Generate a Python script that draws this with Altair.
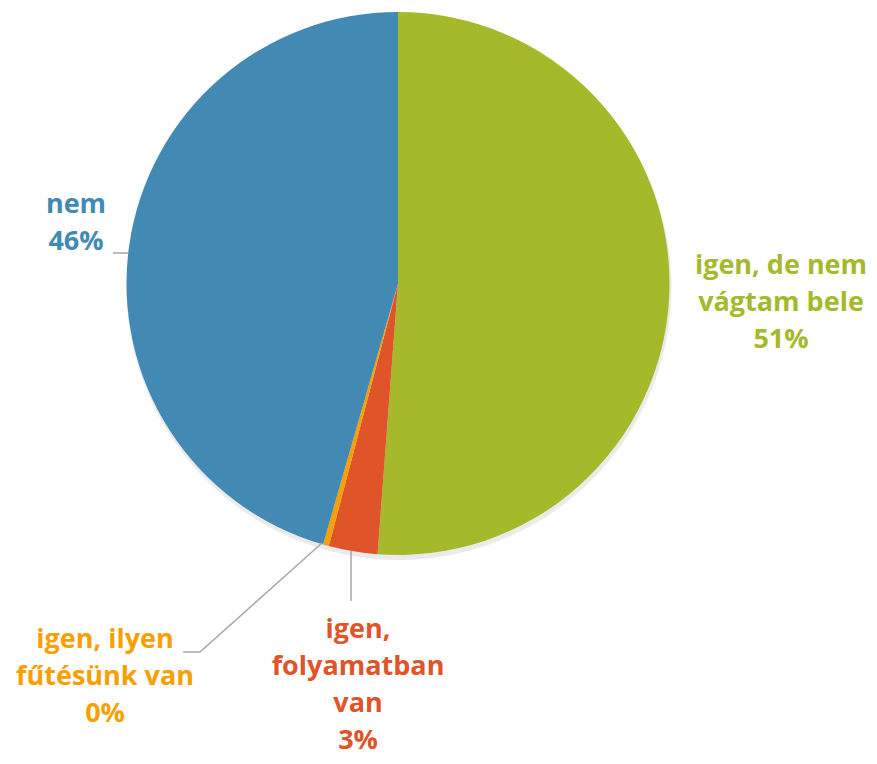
import altair as alt
import pandas as pd

# ---- data ----
categories = ["igen, de nem vágtam bele", "igen, folyamatban van", "igen, ilyen fűtésünk van", "nem"]
values = [51.2, 2.9, 0.35, 45.55]
pct_labels = ["51%", "3%", "0%", "46%"]
colors = ["#A5B92B", "#E0542A", "#F7A000", "#428AB3"]

# label layout (pixel placement, like the original's manual label positions)
label_lines = [
    ["igen, de nem", "vágtam bele"],
    ["igen,", "folyamatban", "van"],
    ["igen, ilyen", "fűtésünk van"],
    ["nem"],
]
label_pos = [(773, 258), (350, 622), (97, 632), (68, 197)]

W, H = 861, 748
CX, CY, R = 390, 275.5, 271.5

pie_df = pd.DataFrame({"cat": categories, "value": values, "order": list(range(len(values)))})
color_scale = alt.Scale(domain=categories, range=colors)

base = alt.Chart(pie_df)
shadow = base.mark_arc(radius=R + 1, color="#000000", opacity=0.08).encode(
    theta=alt.Theta("value:Q", stack=True),
    order=alt.Order("order:Q"),
    x=alt.value(CX + 1), y=alt.value(CY + 4),
)
pie = base.mark_arc(radius=R, strokeWidth=0).encode(
    theta=alt.Theta("value:Q", stack=True),
    color=alt.Color("cat:N", scale=color_scale, legend=None),
    order=alt.Order("order:Q"),
    x=alt.value(CX), y=alt.value(CY),
)

lab_rows = []
for cat, lines, pct, (lx, ly) in zip(categories, label_lines, pct_labels, label_pos):
    lab_rows.append({"cat": cat, "txt": "\n".join(lines + [pct]), "x": lx, "y": ly})
lab_df = pd.DataFrame(lab_rows)

labels = alt.Chart(lab_df).mark_text(
    font="Open Sans", fontWeight="bold", fontSize=27, lineBreak="\n",
    lineHeight=37, align="center", baseline="middle",
).encode(
    x=alt.X("x:Q", scale=None, axis=None),
    y=alt.Y("y:Q", scale=None, axis=None),
    text="txt:N",
    color=alt.Color("cat:N", scale=color_scale, legend=None),
)

# leader lines
seg_df = pd.DataFrame([
    {"x": 105, "y": 245, "x2": 120, "y2": 245},
    {"x": 314, "y": 535, "x2": 192, "y2": 644},
    {"x": 192, "y": 644, "x2": 175, "y2": 644},
    {"x": 343, "y": 543, "x2": 343, "y2": 593},
])
leaders = alt.Chart(seg_df).mark_rule(color="#A6A6A6", strokeWidth=1.5).encode(
    x=alt.X("x:Q", scale=None, axis=None),
    y=alt.Y("y:Q", scale=None, axis=None),
    x2="x2:Q", y2="y2:Q",
)

chart = alt.layer(shadow, pie, leaders, labels).properties(
    width=W, height=H, autosize="none", padding=0, background="#ffffff"
).configure_view(strokeOpacity=0, strokeWidth=0, stroke="transparent")

chart.save("out.html", embed_options={"renderer": "svg", "actions": False})
